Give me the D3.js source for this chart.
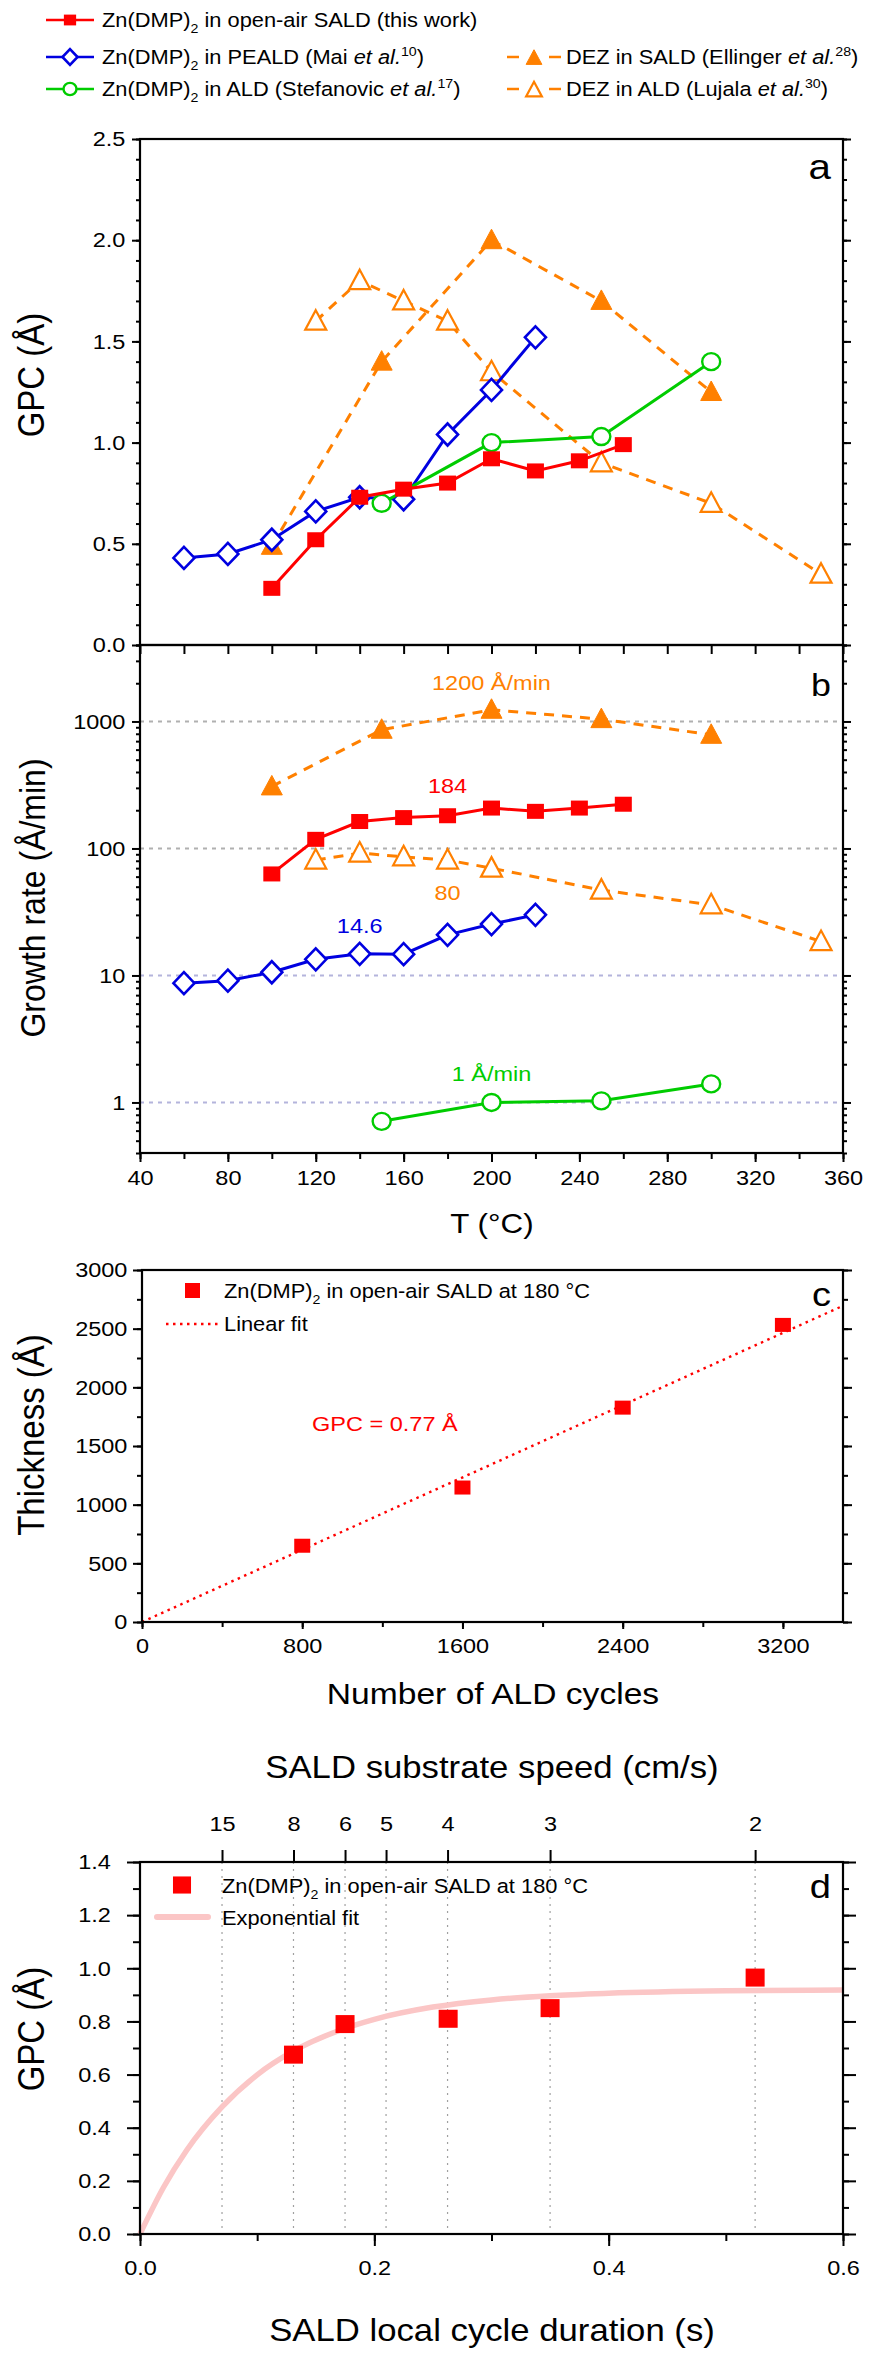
<!DOCTYPE html>
<html>
<head>
<meta charset="utf-8">
<script src="https://cdn.jsdelivr.net/npm/d3@7"></script>
<style>
    body { margin: 0; background: #fff; }
    text { font-family: "Liberation Sans", Arial, sans-serif; }
</style>
</head>
<body>
<svg id="chart" width="879" height="2359"></svg>
<script>
// ---- data ----
// panels a/b : temperature series
var tRed = [100, 120, 140, 160, 180, 200, 220, 240, 260];
var gpcRed = [0.28, 0.52, 0.73, 0.77, 0.80, 0.92, 0.86, 0.91, 0.99];
var rateRed = [63, 118, 163, 175, 181, 208, 196, 208, 223];

var tBlue = [60, 80, 100, 120, 140, 160, 180, 200, 220];
var gpcBlue = [0.43, 0.45, 0.52, 0.66, 0.73, 0.72, 1.04, 1.26, 1.52];
var rateBlue = [8.7, 9.1, 10.6, 13.4, 14.8, 14.7, 20.9, 25.4, 30.0];

var tGreen = [150, 200, 250, 300];
var gpcGreen = [0.70, 1.00, 1.03, 1.40];
var rateGreen = [0.71, 1.00, 1.03, 1.40];

var tDezSald = [100, 150, 200, 250, 300];
var gpcDezSald = [0.49, 1.40, 2.00, 1.70, 1.25];
var rateDezSald = [308, 860, 1236, 1043, 785];

var tDezAld = [120, 140, 160, 180, 200, 250, 300, 350];
var gpcDezAld = [1.60, 1.80, 1.70, 1.60, 1.35, 0.90, 0.70, 0.35];
var rateDezAld = [81, 92, 86, 81, 70, 47, 36, 18.5];

var tTicks = [40, 80, 120, 160, 200, 240, 280, 320, 360];
var rateTicks = [1, 10, 100, 1000];

// panel c : thickness vs cycles
var cycles = [800, 1600, 2400, 3200];
var thickness = [650, 1146, 1827, 2532];
var linFitX = [0, 3500];
var linFitY = [0, 2695];
var cycleTicks = [0, 800, 1600, 2400, 3200];

// panel d : GPC vs cycle duration
var duration = [0.131, 0.175, 0.263, 0.350, 0.525];
var gpcDur = [0.675, 0.79, 0.81, 0.85, 0.965];
var expFitX = [0, 0.02, 0.04, 0.07, 0.10, 0.13, 0.17, 0.20, 0.25, 0.30, 0.35, 0.40, 0.50, 0.60];
var expFitY = [0, 0.175, 0.316, 0.478, 0.599, 0.686, 0.766, 0.808, 0.854, 0.881, 0.897, 0.906, 0.915, 0.918];
var speedLabels = ['15', '8', '6', '5', '4', '3', '2'];
var speedPos = [0.070, 0.131, 0.175, 0.210, 0.2625, 0.350, 0.525];

var RED = '#ff0000', BLUE = '#0000e0', GREEN = '#00cc00', ORANGE = '#ff8000';
var SX = 1.12;   // glyphs in the figure are a bit wider than Arial

var svg = d3.select('#chart');

var label = function (x, y, str, size, anchor, color) {
        return svg.append('text')
            .attr('transform', 'translate(' + x + ',' + y + ') scale(' + SX + ',1)')
            .attr('text-anchor', anchor || 'middle')
            .style('font-size', size + 'px')
            .attr('fill', color || '#000')
            .text(str);
    },
    richLabel = function (x, y, parts, size, color) {
        var t = svg.append('text')
                .attr('transform', 'translate(' + x + ',' + y + ') scale(' + SX + ',1)')
                .style('font-size', size + 'px')
                .attr('fill', color || '#000'),
            shift = 0;
        parts.forEach(function (p) {
            var s = t.append('tspan').text(p[0]),
                want = p[1] === 'sub' ? size * 0.3 : (p[1] === 'sup' ? -size * 0.4 : 0);
            if (want !== shift) {
                s.attr('dy', want - shift);
                shift = want;
            }
            if (p[1] === 'sub' || p[1] === 'sup') {
                s.style('font-size', (size * 0.65) + 'px');
            }
            if (p[1] === 'it') {
                s.style('font-style', 'italic');
            }
        });
        return t;
    },
    yTitle = function (x, y, str, size) {
        svg.append('text')
            .attr('transform', 'translate(' + x + ',' + y + ') rotate(-90) scale(1,' + SX + ')')
            .attr('text-anchor', 'middle')
            .style('font-size', size + 'px')
            .text(str);
    },
    marker = function (g, kind, cx, cy, k) {
        k = k || 1;
        if (kind === 'square') {
            g.append('rect')
                .attr('x', cx - 8.5 * k).attr('y', cy - 7.5 * k)
                .attr('width', 17 * k).attr('height', 15 * k)
                .attr('fill', RED);
        } else if (kind === 'bigsquare') {
            g.append('rect')
                .attr('x', cx - 9.5 * k).attr('y', cy - 9 * k)
                .attr('width', 19 * k).attr('height', 18 * k)
                .attr('fill', RED);
        } else if (kind === 'diamond') {
            g.append('path')
                .attr('d', 'M' + cx + ',' + (cy - 11 * k) + 'L' + (cx + 10.5 * k) + ',' + cy +
                    'L' + cx + ',' + (cy + 11 * k) + 'L' + (cx - 10.5 * k) + ',' + cy + 'Z')
                .attr('fill', '#fff').attr('stroke', BLUE).attr('stroke-width', 2.6);
        } else if (kind === 'circle') {
            g.append('ellipse')
                .attr('cx', cx).attr('cy', cy).attr('rx', 9 * k).attr('ry', 8.5 * k)
                .attr('fill', '#fff').attr('stroke', GREEN).attr('stroke-width', 2.4);
        } else {
            var open = kind === 'otri';
            g.append('path')
                .attr('d', 'M' + cx + ',' + (cy - 11 * k) + 'L' + (cx + 10.5 * k) + ',' + (cy + 8.5 * k) +
                    'L' + (cx - 10.5 * k) + ',' + (cy + 8.5 * k) + 'Z')
                .attr('fill', open ? '#fff' : ORANGE)
                .attr('stroke', ORANGE).attr('stroke-width', open ? 2.2 : 1);
        }
    },
    series = function (g, xs, ys, xScale, yScale, color, kind, dash) {
        var pts = xs.map(function (v, i) {
            return [xScale(v), yScale(ys[i])];
        });
        g.append('path')
            .attr('d', d3.line()(pts))
            .attr('fill', 'none')
            .attr('stroke', color)
            .attr('stroke-width', 3)
            .attr('stroke-dasharray', dash || null);
        pts.forEach(function (p) {
            marker(g, kind, p[0], p[1], 1);
        });
    },
    axis = function (gen, tx, ty, size) {
        var g = svg.append('g').attr('transform', 'translate(' + tx + ',' + ty + ')').call(gen);
        g.attr('font-size', null).attr('font-family', null);
        g.select('.domain').remove();
        g.selectAll('line').attr('stroke', '#000').attr('stroke-width', 2);
        g.selectAll('text')
            .attr('fill', '#000')
            .style('font-size', (size || 21) + 'px')
            .attr('transform', 'scale(' + SX + ',1)');
        return g;
    },
    frame = function (x0, y0, x1, y1) {
        svg.append('rect')
            .attr('x', x0).attr('y', y0)
            .attr('width', x1 - x0).attr('height', y1 - y0)
            .attr('fill', 'none').attr('stroke', '#000').attr('stroke-width', 2.2);
    },
    range = function (a, b, s) {
        return d3.range(a, b + s / 2, s);
    };

// ---------------- top legend ----------------
var leg = svg.append('g');
[[20, RED, 'square', null], [57, BLUE, 'diamond', null], [89, GREEN, 'circle', null]].forEach(function (r) {
    leg.append('line').attr('x1', 46).attr('x2', 94).attr('y1', r[0]).attr('y2', r[0])
        .attr('stroke', r[1]).attr('stroke-width', 2.5);
    marker(leg, r[2], 70, r[0], 0.72);
});
[[57, 'tri'], [89, 'otri']].forEach(function (r) {
    leg.append('line').attr('x1', 507).attr('x2', 519).attr('y1', r[0]).attr('y2', r[0])
        .attr('stroke', ORANGE).attr('stroke-width', 2.5);
    leg.append('line').attr('x1', 549).attr('x2', 561).attr('y1', r[0]).attr('y2', r[0])
        .attr('stroke', ORANGE).attr('stroke-width', 2.5);
    marker(leg, r[1], 534, r[0] + 1, 0.75);
});
richLabel(102, 27, [['Zn(DMP)'], ['2', 'sub'], [' in open-air SALD (this work)']], 19.5);
richLabel(102, 64, [['Zn(DMP)'], ['2', 'sub'], [' in PEALD (Mai '], ['et al.', 'it'], ['10', 'sup'], [')']], 19.5);
richLabel(102, 96, [['Zn(DMP)'], ['2', 'sub'], [' in ALD (Stefanovic '], ['et al.', 'it'], ['17', 'sup'], [')']], 19.5);
richLabel(566, 64, [['DEZ in SALD (Ellinger '], ['et al.', 'it'], ['28', 'sup'], [')']], 19.5);
richLabel(566, 96, [['DEZ in ALD (Lujala '], ['et al.', 'it'], ['30', 'sup'], [')']], 19.5);

// ---------------- panel a & b ----------------
var xT = d3.scaleLinear().domain([40, 360]).range([140, 843]),
    yA = d3.scaleLinear().domain([0, 2.5]).range([645, 139]),
    yB = d3.scaleLog().domain([0.4, 4000]).range([1153, 645]);

// grid lines of panel b
svg.append('g').selectAll('line')
    .data(rateTicks)
    .enter().append('line')
    .attr('x1', 140).attr('x2', 843)
    .attr('y1', function (d) { return yB(d); })
    .attr('y2', function (d) { return yB(d); })
    .attr('stroke', function (d) { return d < 50 ? '#b4b4dc' : '#b0b0b0'; })
    .attr('stroke-width', 2)
    .attr('stroke-dasharray', '4,5');

// axes a
axis(d3.axisLeft(yA).tickValues(range(0, 2.5, 0.1)).tickSize(4).tickFormat(''), 140, 0);
axis(d3.axisLeft(yA).tickValues(range(0, 2.5, 0.5)).tickSize(8).tickPadding(5).tickFormat(d3.format('.1f')), 140, 0);
axis(d3.axisRight(yA).tickValues(range(0, 2.5, 0.1)).tickSize(4).tickFormat(''), 843, 0);
axis(d3.axisRight(yA).tickValues(range(0, 2.5, 0.5)).tickSize(8).tickFormat(''), 843, 0);
axis(d3.axisBottom(xT).tickValues(range(40, 360, 20)).tickSize(9).tickFormat(''), 0, 645);

// axes b
var minorB = yB.ticks().filter(function (d) {
    return rateTicks.indexOf(d) < 0;
});
axis(d3.axisLeft(yB).tickValues(minorB).tickSize(4).tickFormat(''), 140, 0);
axis(d3.axisLeft(yB).tickValues(rateTicks).tickSize(8).tickPadding(5).tickFormat(d3.format('d')), 140, 0);
axis(d3.axisRight(yB).tickValues(minorB).tickSize(4).tickFormat(''), 843, 0);
axis(d3.axisRight(yB).tickValues(rateTicks).tickSize(8).tickFormat(''), 843, 0);
axis(d3.axisBottom(xT).tickValues(range(40, 360, 20)).tickSize(6).tickFormat(''), 0, 1153);
axis(d3.axisBottom(xT).tickValues(tTicks).tickSize(9).tickPadding(8).tickFormat(d3.format('d')), 0, 1153);

var gA = svg.append('g');
series(gA, tDezAld, gpcDezAld, xT, yA, ORANGE, 'otri', '10,8');
series(gA, tDezSald, gpcDezSald, xT, yA, ORANGE, 'tri', '10,8');
series(gA, tBlue, gpcBlue, xT, yA, BLUE, 'diamond');
series(gA, tGreen, gpcGreen, xT, yA, GREEN, 'circle');
series(gA, tRed, gpcRed, xT, yA, RED, 'square');

var gB = svg.append('g');
series(gB, tDezAld, rateDezAld, xT, yB, ORANGE, 'otri', '10,8');
series(gB, tDezSald, rateDezSald, xT, yB, ORANGE, 'tri', '10,8');
series(gB, tBlue, rateBlue, xT, yB, BLUE, 'diamond');
series(gB, tGreen, rateGreen, xT, yB, GREEN, 'circle');
series(gB, tRed, rateRed, xT, yB, RED, 'square');

frame(140, 139, 843, 645);
frame(140, 645, 843, 1153);

label(831, 179, 'a', 36, 'end');
label(831, 696, 'b', 32, 'end');
label(xT(200), 690, '1200 Å/min', 21, 'middle', ORANGE);
label(xT(180), 793, '184', 21, 'middle', RED);
label(xT(180), 900, '80', 21, 'middle', ORANGE);
label(xT(140), 933, '14.6', 21, 'middle', BLUE);
label(xT(200), 1081, '1 Å/min', 21, 'middle', GREEN);

yTitle(44, 375, 'GPC (Å)', 33);
yTitle(45, 898, 'Growth rate (Å/min)', 32);
label(492, 1233, 'T (°C)', 28);

// ---------------- panel c ----------------
var xC = d3.scaleLinear().domain([0, 3500]).range([142, 843]),
    yC = d3.scaleLinear().domain([0, 3000]).range([1622, 1270]);

axis(d3.axisLeft(yC).tickValues(range(0, 3000, 250)).tickSize(5).tickFormat(''), 142, 0);
axis(d3.axisLeft(yC).tickValues(range(0, 3000, 500)).tickSize(9).tickPadding(4).tickFormat(d3.format('d')), 142, 0);
axis(d3.axisRight(yC).tickValues(range(0, 3000, 250)).tickSize(5).tickFormat(''), 843, 0);
axis(d3.axisRight(yC).tickValues(range(0, 3000, 500)).tickSize(9).tickFormat(''), 843, 0);
axis(d3.axisBottom(xC).tickValues(range(0, 3200, 400)).tickSize(5).tickFormat(''), 0, 1622);
axis(d3.axisBottom(xC).tickValues(cycleTicks).tickSize(7).tickPadding(9).tickFormat(d3.format('d')), 0, 1622);

var gC = svg.append('g');
gC.append('path')
    .attr('d', d3.line()(linFitX.map(function (v, i) { return [xC(v), yC(linFitY[i])]; })))
    .attr('stroke', RED).attr('stroke-width', 2.4).attr('fill', 'none')
    .attr('stroke-dasharray', '2.5,4.5');
cycles.forEach(function (c, i) {
    gC.append('rect')
        .attr('x', xC(c) - 8).attr('y', yC(thickness[i]) - 7)
        .attr('width', 16).attr('height', 14)
        .attr('fill', RED);
});
frame(142, 1270, 843, 1622);

gC.append('rect').attr('x', 185).attr('y', 1283).attr('width', 15).attr('height', 15).attr('fill', RED);
richLabel(224, 1298, [['Zn(DMP)'], ['2', 'sub'], [' in open-air SALD at 180 °C']], 19.5);
gC.append('line').attr('x1', 166).attr('x2', 219).attr('y1', 1324).attr('y2', 1324)
    .attr('stroke', RED).attr('stroke-width', 2.4).attr('stroke-dasharray', '2.5,4.5');
label(224, 1331, 'Linear fit', 19.5, 'start');
label(312, 1431, 'GPC = 0.77 Å', 21, 'start', RED);
label(831, 1306, 'c', 34, 'end');

yTitle(44, 1435, 'Thickness (Å)', 33);
label(493, 1704, 'Number of ALD cycles', 30);

// ---------------- panel d ----------------
var xD = d3.scaleLinear().domain([0, 0.6]).range([140, 843]),
    yD = d3.scaleLinear().domain([0, 1.4]).range([2234, 1862]);

svg.append('g').selectAll('line')
    .data(speedPos)
    .enter().append('line')
    .attr('x1', function (d) { return xD(d); })
    .attr('x2', function (d) { return xD(d); })
    .attr('y1', 1862).attr('y2', 2234)
    .attr('stroke', '#a0a0a0').attr('stroke-width', 1.2)
    .attr('stroke-dasharray', '2,5');

axis(d3.axisLeft(yD).tickValues(range(0, 1.4, 0.1)).tickSize(7).tickFormat(''), 140, 0);
axis(d3.axisLeft(yD).tickValues(range(0, 1.4, 0.2)).tickSize(13).tickPadding(13).tickFormat(d3.format('.1f')), 140, 0);
axis(d3.axisRight(yD).tickValues(range(0, 1.4, 0.1)).tickSize(6).tickFormat(''), 843, 0);
axis(d3.axisRight(yD).tickValues(range(0, 1.4, 0.2)).tickSize(13).tickFormat(''), 843, 0);
axis(d3.axisBottom(xD).tickValues(range(0, 0.6, 0.1)).tickSize(7).tickFormat(''), 0, 2234);
axis(d3.axisBottom(xD).tickValues(range(0, 0.6, 0.2)).tickSize(12).tickPadding(14).tickFormat(d3.format('.1f')), 0, 2234);
axis(d3.axisTop(xD).tickValues(speedPos).tickSize(12).tickPadding(19)
    .tickFormat(function (d, i) { return speedLabels[i]; }), 0, 1862);

var gD = svg.append('g');
gD.append('path')
    .attr('d', d3.line().curve(d3.curveMonotoneX)(expFitX.map(function (v, i) { return [xD(v), yD(expFitY[i])]; })))
    .attr('stroke', '#fbc6c6').attr('stroke-width', 5.5).attr('fill', 'none');
duration.forEach(function (t, i) {
    marker(gD, 'bigsquare', xD(t), yD(gpcDur[i]), 1);
});
frame(140, 1862, 843, 2234);

marker(gD, 'bigsquare', 182, 1885, 0.95);
richLabel(222, 1893, [['Zn(DMP)'], ['2', 'sub'], [' in open-air SALD at 180 °C']], 19.5);
gD.append('line').attr('x1', 157).attr('x2', 208).attr('y1', 1917).attr('y2', 1917)
    .attr('stroke', '#fbc6c6').attr('stroke-width', 6).attr('stroke-linecap', 'round');
label(222, 1925, 'Exponential fit', 19.5, 'start');
label(831, 1898, 'd', 34, 'end');

yTitle(44, 2029, 'GPC (Å)', 33);
label(492, 1778, 'SALD substrate speed (cm/s)', 31);
label(492, 2341, 'SALD local cycle duration (s)', 31);
</script>
</body>
</html>
